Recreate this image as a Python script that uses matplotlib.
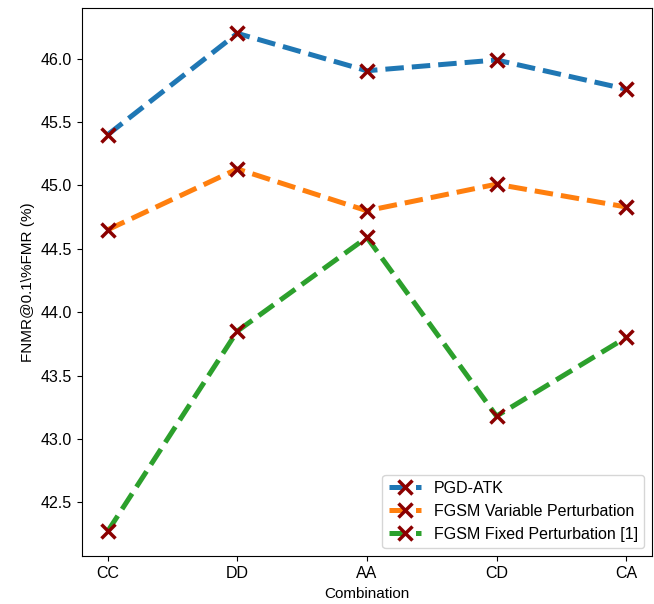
import matplotlib
matplotlib.use('Agg')
import matplotlib.pyplot as plt

# --------------------------------------------------------------
# Data
# --------------------------------------------------------------
combinations = ['CC', 'DD', 'AA', 'CD', 'CA']
pgd_atk = [45.40, 46.20, 45.905, 45.99, 45.76]
fgsm_variable = [44.65, 45.13, 44.80, 45.01, 44.83]
fgsm_fixed = [42.27, 43.85, 44.59, 43.18, 43.80]

series = [
    ('PGD-ATK', pgd_atk, '#1f77b4'),
    ('FGSM Variable Perturbation', fgsm_variable, '#ff7f0e'),
    ('FGSM Fixed Perturbation [1]', fgsm_fixed, '#2ca02c'),
]

plt.rcParams['font.family'] = ['Liberation Sans', 'DejaVu Sans']
plt.rcParams['font.size'] = 11.5

fig = plt.figure(figsize=(6.54, 6.04), dpi=100)
ax = fig.add_axes([0.125, 0.079, 0.872, 0.907])

x = range(len(combinations))
for label, values, color in series:
    ax.plot(x, values, linestyle='--', linewidth=3.6, color=color,
            marker='x', markersize=10, markeredgewidth=2.5,
            markeredgecolor='darkred', markerfacecolor='darkred',
            label=label)

ax.set_xticks(list(x))
ax.set_xticklabels(combinations)
ax.set_xlabel('Combination', fontsize=11)
ax.set_ylabel('FNMR@0.1\\%FMR (%)', fontsize=11)
ax.legend(loc='lower right', fontsize=11.5)

fig.savefig('out.png', dpi=100)
